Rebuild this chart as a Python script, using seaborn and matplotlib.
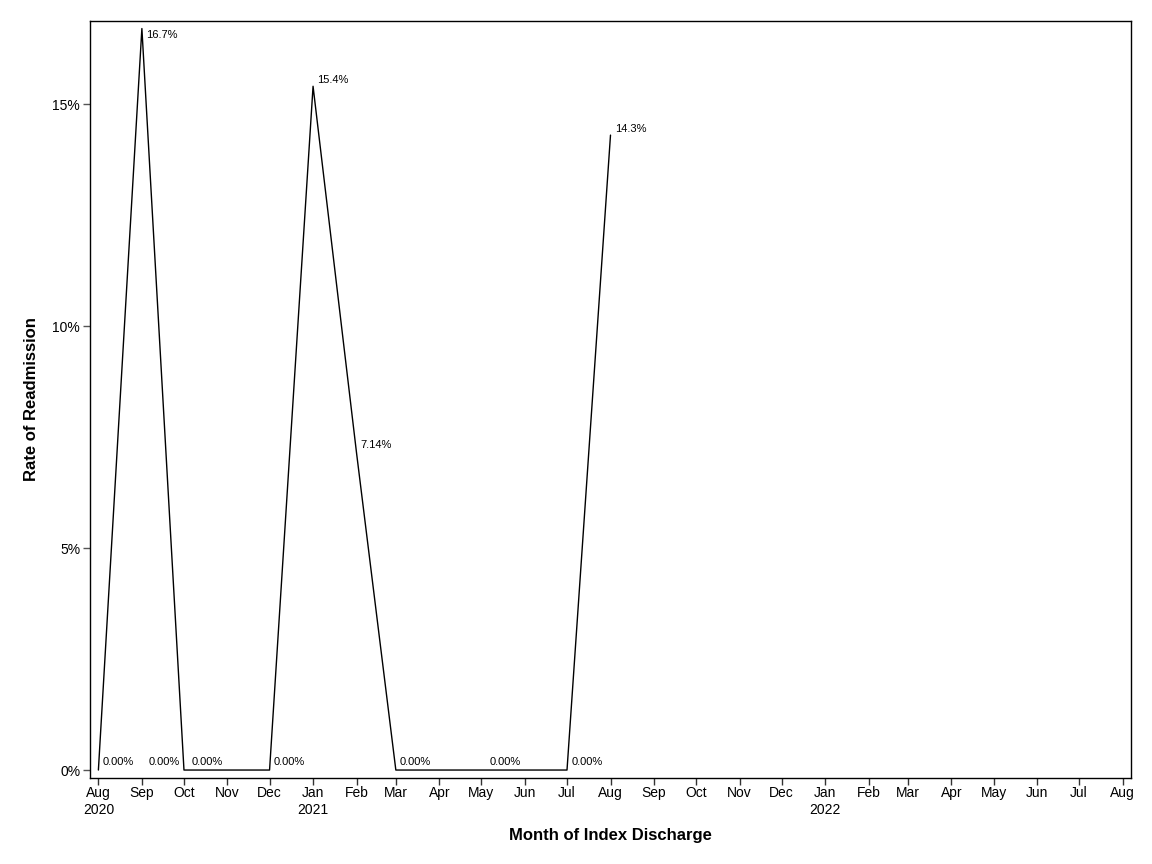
import pandas as pd
import numpy as np
import seaborn as sns
import matplotlib.pyplot as plt
import matplotlib.dates as mdates
from matplotlib.ticker import FuncFormatter

# data
months = ["2020-08-01", "2020-09-01", "2020-10-01", "2020-11-01", "2020-12-01",
          "2021-01-01", "2021-02-01", "2021-03-01", "2021-04-01", "2021-05-01",
          "2021-06-01", "2021-07-01", "2021-08-01"]
rates = [0.0, 16.7, 0.0, 0.0, 0.0, 15.4, 7.14, 0.0, 0.0, 0.0, 0.0, 0.0, 14.3]
point_labels = ["0.00%", "16.7%", "0.00%", "0.00%", "0.00%", "15.4%", "7.14%",
                "0.00%", "", "", "0.00%", "0.00%", "14.3%"]
label_side = ["r", "r", "l", "l", "r", "r", "r", "r", "r", "r", "l", "r", "r"]

tick_months = pd.date_range("2020-08-01", "2022-08-01", freq="MS")
tick_labels = []
for d in tick_months:
    lab = d.strftime("%b")
    if d == tick_months[0] or d.month == 1:
        lab += "\n" + str(d.year)
    tick_labels.append(lab)

df = pd.DataFrame({"month": pd.to_datetime(months), "rate": rates})

sns.set_theme(style="white")
plt.rcParams['font.family'] = ['Liberation Sans', 'DejaVu Sans']
plt.rcParams['text.color'] = 'black'
plt.rcParams['axes.labelcolor'] = 'black'
plt.rcParams['xtick.color'] = 'black'
plt.rcParams['ytick.color'] = 'black'

fig = plt.figure(figsize=(11.52, 8.64), dpi=100)
ax = fig.add_axes([0.0781, 0.0995, 0.9037, 0.8762])

sns.lineplot(data=df, x="month", y="rate", color="black", linewidth=1, ax=ax)

# point labels
for d, r, lab, side in zip(df["month"], df["rate"], point_labels, label_side):
    if lab == "":
        continue
    if r == 0:
        dx = 3 if side == "r" else -3
        ax.annotate(lab, (d, r), xytext=(dx, 2), textcoords="offset points",
                    ha="left" if side == "r" else "right", va="bottom", fontsize=8)
    elif r > 16:
        ax.annotate(lab, (d, r), xytext=(3, -1), textcoords="offset points",
                    ha="left", va="top", fontsize=8)
    elif r > 10:
        ax.annotate(lab, (d, r), xytext=(3, 1), textcoords="offset points",
                    ha="left", va="bottom", fontsize=8)
    else:
        ax.annotate(lab, (d, r), xytext=(3, 6), textcoords="offset points",
                    ha="left", va="center", fontsize=8)

ax.set_xlim(pd.Timestamp("2020-07-26"), pd.Timestamp("2022-08-07"))
ax.set_ylim(-0.18, 16.87)
ax.set_xticks(tick_months)
ax.set_xticklabels(tick_labels, fontsize=10)
ax.set_yticks([0, 5, 10, 15])
ax.yaxis.set_major_formatter(FuncFormatter(lambda v, p: f"{v:.0f}%"))
ax.tick_params(axis="y", labelsize=10, length=5, width=1, color="#555555",
               direction="out", left=True, pad=2)
ax.tick_params(axis="x", length=5, width=1, color="#333333", direction="out",
               bottom=True, pad=1)

for s in ax.spines.values():
    s.set_color("black")
    s.set_linewidth(1)

ax.set_xlabel("Month of Index Discharge", fontsize=12, fontweight="bold", labelpad=8)
ax.set_ylabel("Rate of Readmission", fontsize=12, fontweight="bold", labelpad=10)

fig.savefig("out.png", dpi=100)
